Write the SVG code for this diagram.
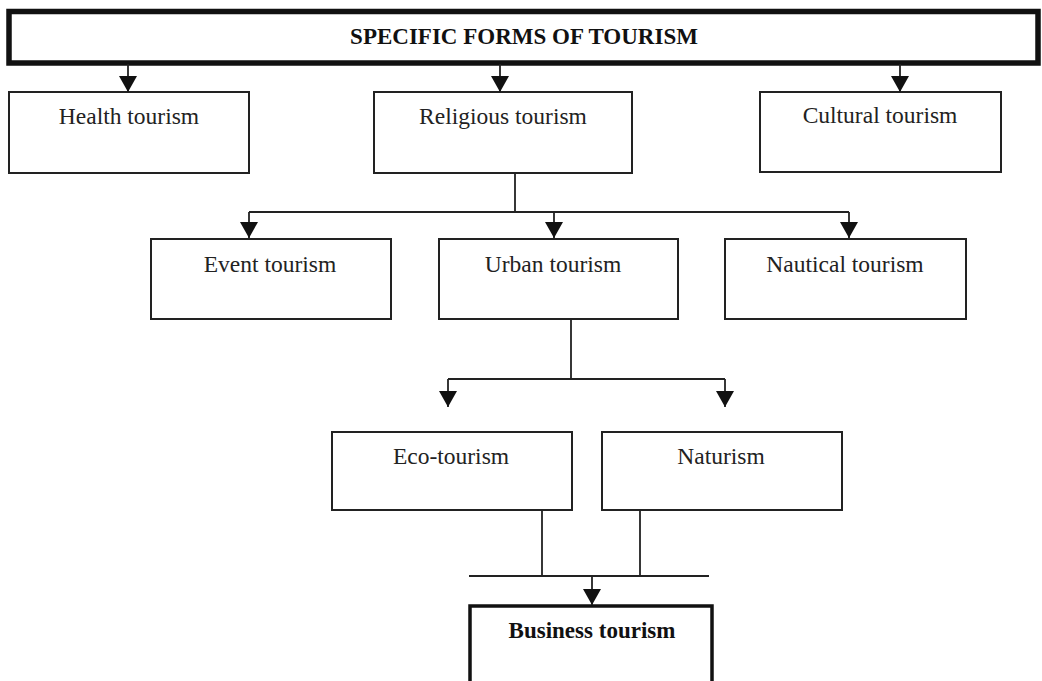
<svg xmlns="http://www.w3.org/2000/svg" width="1042" height="681" viewBox="0 0 1042 681">
<style>
.box{fill:#fff;stroke:#222;stroke-width:2}
.thick{fill:#fff;stroke:#111;stroke-width:3.5}
.title{fill:#fff;stroke:#111;stroke-width:5.5}
.lbl{font-family:"Liberation Serif",serif;font-size:23.5px;fill:#222;text-anchor:middle}
.bold{font-family:"Liberation Serif",serif;font-weight:bold;font-size:23px;fill:#111;text-anchor:middle}
.con{fill:none;stroke:#222;stroke-width:1.8}
.arr{marker-end:url(#ah)}
</style>
<defs>
<marker id="ah" viewBox="0 0 16 18" refX="16" refY="9" markerWidth="16" markerHeight="18" markerUnits="userSpaceOnUse" orient="auto">
<path d="M0,0 L16,9 L0,18 z" fill="#111"/>
</marker>
</defs>
<rect width="1042" height="681" fill="#fff"/>
<g id="top">
<rect class="title" x="9" y="11.5" width="1029" height="51.5"/>
<text class="bold" x="524" y="44">SPECIFIC FORMS OF TOURISM</text>
</g>
<g id="health">
<rect class="box" x="9" y="92" width="240" height="81"/>
<text class="lbl" x="129" y="124">Health tourism</text>
</g>
<g id="religious">
<rect class="box" x="374" y="92" width="258" height="81"/>
<text class="lbl" x="503" y="124">Religious tourism</text>
</g>
<g id="cultural">
<rect class="box" x="760" y="92" width="241" height="80"/>
<text class="lbl" x="880" y="123">Cultural tourism</text>
</g>
<g id="event">
<rect class="box" x="151" y="239" width="240" height="80"/>
<text class="lbl" x="270" y="272">Event tourism</text>
</g>
<g id="urban">
<rect class="box" x="439" y="239" width="239" height="80"/>
<text class="lbl" x="553" y="272">Urban tourism</text>
</g>
<g id="nautical">
<rect class="box" x="725" y="239" width="241" height="80"/>
<text class="lbl" x="845" y="272">Nautical tourism</text>
</g>
<g id="eco">
<rect class="box" x="332" y="432" width="240" height="78"/>
<text class="lbl" x="451" y="464">Eco-tourism</text>
</g>
<g id="naturism">
<rect class="box" x="602" y="432" width="240" height="78"/>
<text class="lbl" x="721" y="464">Naturism</text>
</g>
<g id="business">
<rect class="thick" x="470" y="606" width="242" height="100"/>
<text class="bold" x="592" y="638">Business tourism</text>
</g>
<g id="connectors">
<path class="con arr" d="M128,64 V92"/>
<path class="con arr" d="M500,64 V92"/>
<path class="con arr" d="M900,64 V92"/>
<path class="con" d="M515,173 V212 M249,212 H849"/>
<path class="con arr" d="M249,212 V238"/>
<path class="con arr" d="M554,212 V238"/>
<path class="con arr" d="M849,212 V238"/>
<path class="con" d="M571,319 V379 M448,379 H725"/>
<path class="con arr" d="M448,379 V407"/>
<path class="con arr" d="M725,379 V407"/>
<path class="con" d="M542,510 V576 M640,510 V576 M469,576 H709"/>
<path class="con arr" d="M592,576 V605"/>
</g>
</svg>
